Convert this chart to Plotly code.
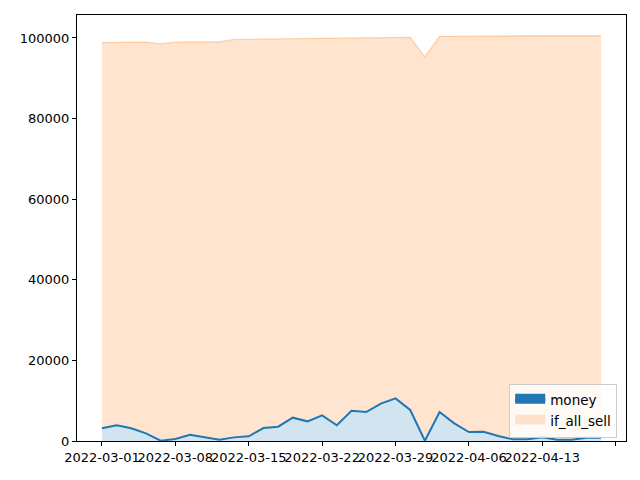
import plotly.graph_objects as go

dates = ["2022-03-01", "2022-03-02", "2022-03-03", "2022-03-04", "2022-03-07",
         "2022-03-08", "2022-03-09", "2022-03-10", "2022-03-11", "2022-03-14",
         "2022-03-15", "2022-03-16", "2022-03-17", "2022-03-18", "2022-03-21",
         "2022-03-22", "2022-03-23", "2022-03-24", "2022-03-25", "2022-03-28",
         "2022-03-29", "2022-03-30", "2022-03-31", "2022-04-01", "2022-04-02",
         "2022-04-06", "2022-04-07", "2022-04-08", "2022-04-11", "2022-04-12",
         "2022-04-13", "2022-04-14", "2022-04-15", "2022-04-18", "2022-04-19"]

money = [3150, 3890, 3150, 1900, 80, 500, 1560, 1000, 330, 900,
         1160, 3220, 3550, 5790, 4880, 6370, 3890, 7520, 7190, 9260,
         10580, 7690, 50, 7190, 4390, 2230, 2310, 1240, 410, 410,
         910, 330, 330, 830, 830]

if_all_sell = [98850, 98900, 98950, 98950, 98550, 98950, 99000, 99000, 99050, 99650,
               99700, 99750, 99750, 99800, 99800, 99850, 99850, 99900, 99950, 100050,
               100150, 100150, 95300, 100400, 100400, 100450, 100450, 100450, 100500, 100550,
               100550, 100550, 100550, 100550, 100550]

idx = list(range(len(dates)))
tickvals = list(range(0, len(dates) + 1, 5))
ticktext = [dates[i] if i < len(dates) else "" for i in tickvals]

BLUE = "#1f77b4"
fig = go.Figure()
fig.add_trace(go.Scatter(x=idx, y=money, mode="lines", fill="tozeroy",
                         fillcolor="rgba(31,119,180,0.2)", line=dict(width=0),
                         showlegend=False, hoverinfo="skip"))
fig.add_trace(go.Scatter(x=idx, y=if_all_sell, mode="lines", fill="tonexty",
                         fillcolor="rgba(255,127,14,0.2)",
                         line=dict(color="rgba(255,127,14,0.3)", width=1.3),
                         showlegend=False))
fig.add_trace(go.Scatter(x=idx, y=money, mode="lines",
                         line=dict(color=BLUE, width=2), showlegend=False))
# legend entries
fig.add_trace(go.Scatter(x=[None], y=[None], mode="lines", fill="toself", name="money",
                         fillcolor=BLUE, line=dict(color=BLUE, width=8)))
fig.add_trace(go.Scatter(x=[None], y=[None], mode="lines", fill="toself", name="if_all_sell",
                         fillcolor="#ffe2cc", line=dict(color="#ffe2cc", width=8)))

axis_common = dict(showline=True, linecolor="black", linewidth=1, mirror=True,
                   ticks="outside", ticklen=4, tickwidth=1, tickcolor="black",
                   showgrid=False, zeroline=False,
                   tickfont=dict(family="DejaVu Sans", size=13, color="black"))

fig.update_xaxes(range=[-1.7, 35.7], tickmode="array", tickvals=tickvals,
                 ticktext=ticktext, tickangle=0, **axis_common)
fig.update_yaxes(range=[0, 105700], tickmode="array",
                 tickvals=[0, 20000, 40000, 60000, 80000, 100000],
                 ticktext=["0", "20000", "40000", "60000", "80000", "100000"],
                 **axis_common)

fig.update_layout(
    width=632, height=472,
    margin=dict(l=69, r=14, t=7, b=39),
    plot_bgcolor="white", paper_bgcolor="white",
    font=dict(family="DejaVu Sans", size=13, color="black"),
    legend=dict(x=0.984, y=0.008, xanchor="right", yanchor="bottom",
                traceorder="normal",
                bgcolor="rgba(255,255,255,0.8)", bordercolor="#cccccc", borderwidth=1,
                font=dict(size=13.5), tracegroupgap=0),
)

fig.write_html("out.html")
